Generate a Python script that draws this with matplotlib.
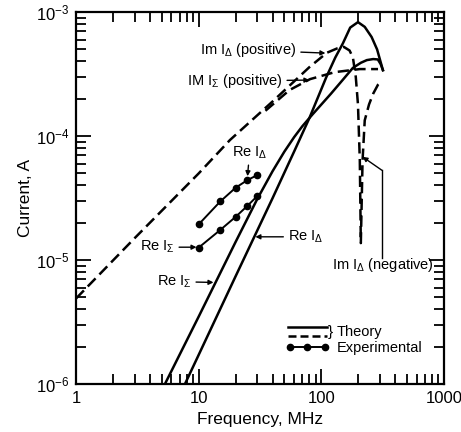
import matplotlib.pyplot as plt
from matplotlib.ticker import FixedLocator, FixedFormatter, NullFormatter, LogLocator

plt.rcParams['font.family'] = ['Liberation Sans', 'DejaVu Sans']
plt.rcParams['mathtext.fontset'] = 'custom'
plt.rcParams['mathtext.rm'] = 'Liberation Sans'
plt.rcParams['mathtext.it'] = 'Liberation Sans:italic'
plt.rcParams['mathtext.bf'] = 'Liberation Sans:bold'

# theory, real parts (solid)
f_re_sum = [5, 10, 20, 30, 40, 50, 60, 70, 85, 120, 150, 181, 210, 235, 265, 289, 305, 318]
re_sum = [0.89e-6, 3.5e-6, 1.4e-5, 3.1e-5, 5.2e-5, 7.5e-5, 9.8e-5, 1.2e-4, 1.5e-4,
          2.2e-4, 2.85e-4, 3.55e-4, 3.9e-4, 4.1e-4, 4.18e-4, 4.15e-4, 3.8e-4, 3.4e-4]

f_re_diff = [7.5, 10, 20, 40, 60, 80, 110, 130, 150, 172, 199, 226, 257, 285, 318]
re_diff = [0.94e-6, 1.72e-6, 7.4e-6, 3.15e-5, 7.5e-5, 1.4e-4, 3.0e-4, 4.3e-4,
           5.6e-4, 7.5e-4, 8.3e-4, 7.6e-4, 6.3e-4, 5.0e-4, 3.4e-4]

# theory, imaginary parts (dashed), magnitude
f_im_diff = [1, 3, 10, 18, 40, 80, 111, 135, 152, 170, 181, 191, 199, 206, 210,
             217, 226, 245, 265, 290, 310]
im_diff = [4.9e-6, 1.5e-5, 5.0e-5, 9.3e-5, 1.9e-4, 3.6e-4, 4.7e-4, 5.1e-4, 5.25e-4,
           4.9e-4, 4.3e-4, 3.0e-4, 1.8e-4, 6.4e-5, 1.37e-5, 6.4e-5, 1.34e-4,
           1.8e-4, 2.2e-4, 2.6e-4, 2.8e-4]

f_im_sum = [35, 55, 81, 129, 206, 290]
im_sum = [1.6e-4, 2.35e-4, 2.88e-4, 3.28e-4, 3.47e-4, 3.47e-4]

# experimental
f_exp = [10, 15, 20, 25, 30]
exp_diff = [1.94e-5, 2.97e-5, 3.83e-5, 4.42e-5, 4.84e-5]
exp_sum = [1.26e-5, 1.75e-5, 2.23e-5, 2.74e-5, 3.28e-5]

x_ticks = [1, 10, 100, 1000]
x_ticklabels = ['1', '10', '100', '1000']

fig = plt.figure(figsize=(4.61, 4.32), dpi=100)
ax = fig.add_axes([0.165, 0.111, 0.798, 0.861])

lw = 1.8
dash = (4.5, 2.2)
ax.plot(f_re_sum, re_sum, color='k', lw=lw)
ax.plot(f_re_diff, re_diff, color='k', lw=lw)
ax.plot(f_im_diff, im_diff, color='k', lw=lw, dashes=dash)
ax.plot(f_im_sum, im_sum, color='k', lw=lw, dashes=dash)
ax.plot(f_exp, exp_diff, color='k', lw=1.4, marker='o', ms=4.5)
ax.plot(f_exp, exp_sum, color='k', lw=1.4, marker='o', ms=4.5)

ax.set_xscale('log')
ax.set_yscale('log')
ax.set_xlim(1, 1000)
ax.set_ylim(1e-6, 1e-3)
ax.xaxis.set_major_locator(FixedLocator(x_ticks))
ax.xaxis.set_major_formatter(FixedFormatter(x_ticklabels))
ax.xaxis.set_minor_locator(LogLocator(base=10, subs=range(2, 10)))
ax.xaxis.set_minor_formatter(NullFormatter())
ax.yaxis.set_minor_formatter(NullFormatter())
ax.tick_params(which='both', direction='in', top=True, right=True, width=1.3)
ax.tick_params(which='major', length=10.5, labelsize=12, pad=5)
ax.tick_params(which='minor', length=7)
for s in ax.spines.values():
    s.set_linewidth(1.6)

ax.set_xlabel('Frequency, MHz', fontsize=12.5, labelpad=4)
ax.set_ylabel('Current, A', fontsize=12.5, labelpad=2)

fs = 10.5
arr = dict(arrowstyle='-|>', lw=1.0, color='k', mutation_scale=7, shrinkA=1, shrinkB=0)
ax.annotate('Im I$_\\Delta$ (positive)', xy=(108, 4.67e-4), xytext=(63, 4.94e-4),
            ha='right', va='center', fontsize=fs, arrowprops=arr)
ax.annotate('IM I$_\\Sigma$ (positive)', xy=(80, 2.83e-4), xytext=(48.6, 2.78e-4),
            ha='right', va='center', fontsize=fs, arrowprops=arr)
ax.annotate('Re I$_\\Delta$', xy=(25, 4.75e-5), xytext=(26, 6.3e-5),
            ha='center', va='bottom', fontsize=fs, arrowprops=arr)
ax.annotate('Re I$_\\Sigma$', xy=(9.6, 1.27e-5), xytext=(6.4, 1.27e-5),
            ha='right', va='center', fontsize=fs, arrowprops=arr)
ax.annotate('Re I$_\\Sigma$', xy=(13.2, 6.6e-6), xytext=(8.8, 6.7e-6),
            ha='right', va='center', fontsize=fs, arrowprops=arr)
ax.annotate('Re I$_\\Delta$', xy=(29, 1.54e-5), xytext=(53, 1.54e-5),
            ha='left', va='center', fontsize=fs, arrowprops=arr)
ax.text(122, 9.1e-6, 'Im I$_\\Delta$ (negative)', ha='left', va='center', fontsize=fs)
ax.plot([312, 312], [1.04e-5, 5.3e-5], color='k', lw=1.0)
ax.annotate('', xy=(217, 6.8e-5), xytext=(312, 5.3e-5), arrowprops=dict(arr, shrinkA=0))

# legend drawn by hand
tr = ax.transAxes
ax.plot([0.576, 0.682], [0.154, 0.154], color='k', lw=lw, transform=tr)
ax.plot([0.576, 0.682], [0.129, 0.129], color='k', lw=lw, dashes=(3.2, 1.6), transform=tr)
ax.text(0.684, 0.141, '}', fontsize=11, ha='left', va='center', transform=tr)
ax.text(0.709, 0.139, 'Theory', fontsize=fs, ha='left', va='center', transform=tr)
ax.plot([0.576, 0.682], [0.099, 0.099], color='k', lw=1.4, transform=tr)
ax.plot([0.582, 0.628, 0.677], [0.099, 0.099, 0.099], 'ko', ms=4.5, transform=tr)
ax.text(0.709, 0.097, 'Experimental', fontsize=fs, ha='left', va='center', transform=tr)

fig.savefig('out.png', dpi=100)
